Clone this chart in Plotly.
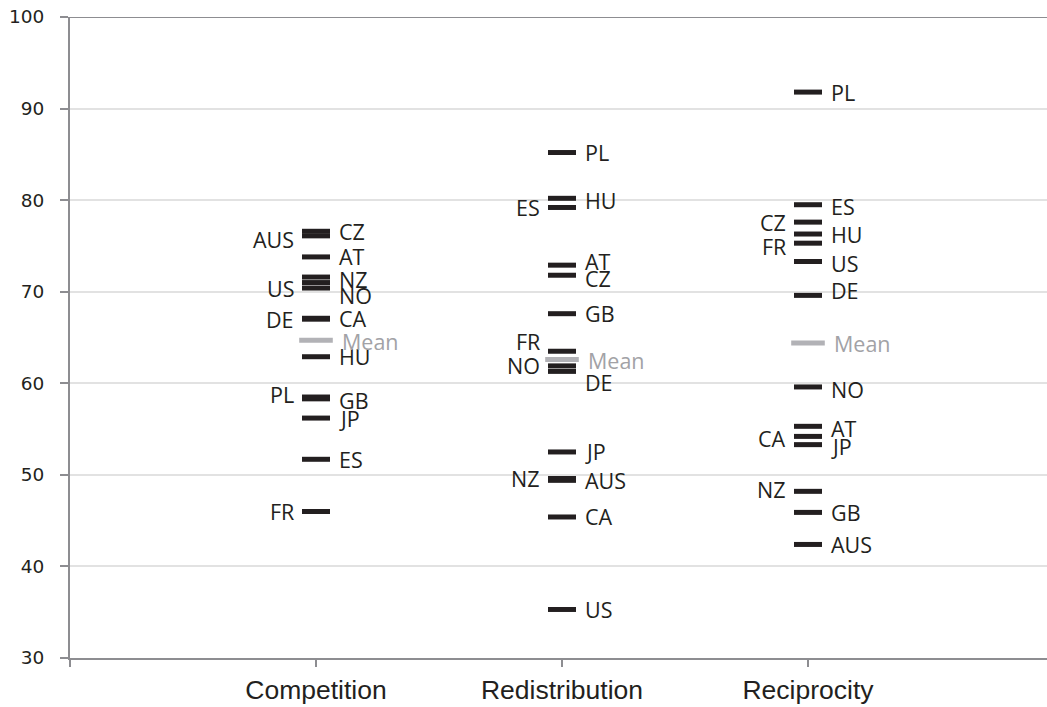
import plotly.graph_objects as go

# ---- data ----
dimensions = ["Competition", "Redistribution", "Reciprocity"]
countries = ["AT", "AUS", "CA", "CZ", "DE", "ES", "FR", "GB", "HU", "JP", "NO", "NZ", "PL", "US"]
competition = [73.8, 76.1, 67.1, 76.6, 67.0, 51.7, 46.0, 58.3, 62.9, 56.2, 71.0, 71.6, 58.5, 70.4]
redistribution = [72.9, 49.4, 45.4, 71.8, 61.3, 79.2, 63.5, 67.6, 80.2, 52.5, 61.9, 49.6, 85.2, 35.3]
reciprocity = [55.3, 42.4, 54.2, 77.6, 69.6, 79.5, 75.3, 45.9, 76.3, 53.3, 59.6, 48.2, 91.8, 73.3]
means = [64.7, 62.6, 64.4]
y_ticks = [30, 40, 50, 60, 70, 80, 90, 100]

# ---- label styling (which side, pixel nudges) ----
left_labels = [
    {"AUS", "US", "DE", "PL", "FR"},
    {"ES", "FR", "NO", "NZ"},
    {"CZ", "FR", "CA", "NZ"},
]
label_nudge = [  # pixels downward
    {"AUS": 4, "NO": 13, "NZ": 2, "GB": 2, "PL": -3},
    {"AT": -4, "CZ": 3, "FR": -10, "DE": 11, "HU": 2},
    {"DE": -5, "FR": 3, "NO": 3, "ES": 2, "US": 2, "AT": 2, "CA": 2, "JP": 2, "NZ": -2},
]

series = [competition, redistribution, reciprocity]
positions = [1, 2, 3]           # category slots on the x axis
x_max = 977 / 246

INK = "#231f20"
GREY_MEAN = "#b2b2b6"
AXIS = "#8d8d91"
GRID = "#e2e2e2"

fig = go.Figure()
annotations = []
for i, vals in enumerate(series):
    fig.add_trace(go.Scatter(
        x=[positions[i]] * len(vals), y=vals, mode="markers",
        marker=dict(symbol="line-ew", size=20, color=INK,
                    line=dict(color=INK, width=5)),
        hoverinfo="skip", showlegend=False))
    for c, v in zip(countries, vals):
        left = c in left_labels[i]
        annotations.append(dict(
            x=positions[i], y=v, text=c, showarrow=False,
            xanchor="right" if left else "left",
            xshift=-20 if left else 21,
            yshift=-label_nudge[i].get(c, 0),
            font=dict(family="Open Sans", size=21.5, color=INK)))
    annotations.append(dict(
        x=positions[i], y=means[i], text="Mean", showarrow=False,
        xanchor="left", xshift=24, yshift=-1,
        font=dict(family="Open Sans", size=21.5, color="#a2a2a6")))

fig.add_trace(go.Scatter(
    x=positions, y=means, mode="markers",
    marker=dict(symbol="line-ew", size=24, color=GREY_MEAN,
                line=dict(color=GREY_MEAN, width=5)),
    hoverinfo="skip", showlegend=False))

fig.add_shape(type="line", xref="paper", yref="y", x0=0, x1=1, y0=100, y1=100,
              line=dict(color=AXIS, width=2), layer="below")

fig.update_layout(
    width=1047, height=707,
    margin=dict(l=70, r=0, t=17, b=49),
    plot_bgcolor="white", paper_bgcolor="white",
    annotations=annotations,
    xaxis=dict(range=[0, x_max], tickvals=[0] + positions,
               ticktext=[""] + dimensions, showgrid=False, zeroline=False,
               showline=True, linecolor=AXIS, linewidth=2,
               ticks="outside", ticklen=7, tickwidth=2, tickcolor=AXIS,
               tickfont=dict(family="Liberation Sans", size=26.5, color=INK),
               ticklabelstandoff=0),
    yaxis=dict(range=[30, 100], tickvals=y_ticks, showgrid=True,
               gridcolor=GRID, gridwidth=2, zeroline=False,
               showline=True, linecolor=AXIS, linewidth=2,
               ticks="outside", ticklen=8, tickwidth=2, tickcolor=AXIS,
               tickfont=dict(family="DejaVu Sans", size=18.5, color=INK),
               ticklabelstandoff=12),
)

fig.write_html("out.html", config={"displayModeBar": False},
               post_script="document.body.style.margin='0';document.body.style.overflow='hidden';")
